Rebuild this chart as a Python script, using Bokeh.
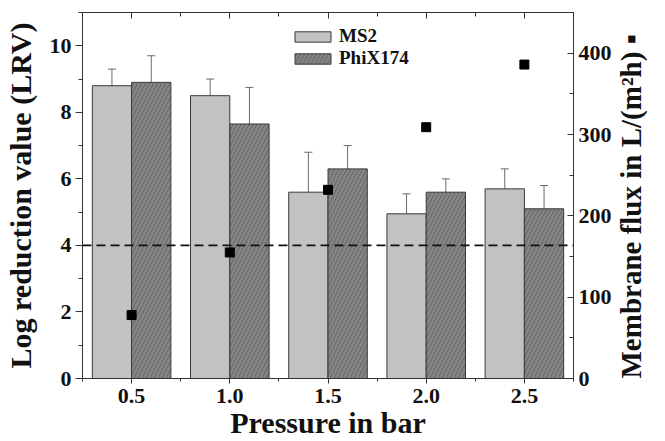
import math
from bokeh.plotting import figure
from bokeh.models import (ColumnDataSource, Range1d, LinearAxis, SingleIntervalTicker,
                          Whisker, TeeHead, Span, Legend, LegendItem, NumeralTickFormatter,
                          CustomJSTickFormatter)
from bokeh.transform import dodge
from bokeh.embed import file_html
from bokeh.resources import INLINE

pressure = [0.5, 1.0, 1.5, 2.0, 2.5]
ms2_lrv = [8.8, 8.5, 5.6, 4.95, 5.7]
ms2_err = [0.5, 0.5, 1.2, 0.6, 0.6]
phix_lrv = [8.9, 7.65, 6.3, 5.6, 5.1]
phix_err = [0.8, 1.1, 0.7, 0.4, 0.7]
flux = [78, 155, 232, 309, 386]

src = ColumnDataSource(dict(
    pressure=pressure, ms2=ms2_lrv, phix=phix_lrv, flux=flux,
    ms2_up=[v + e for v, e in zip(ms2_lrv, ms2_err)],
    ms2_lo=[v - e for v, e in zip(ms2_lrv, ms2_err)],
    phix_up=[v + e for v, e in zip(phix_lrv, phix_err)],
    phix_lo=[v - e for v, e in zip(phix_lrv, phix_err)],
))

FONT = "Liberation Serif"

p = figure(width=665, height=441, output_backend="svg", toolbar_location=None,
           x_range=Range1d(0.25, 2.75), y_range=Range1d(0, 11),
           min_border_left=80, min_border_right=90, min_border_top=12, min_border_bottom=63)
p.extra_y_ranges = {"flux": Range1d(0, 450)}
p.xgrid.visible = False
p.ygrid.visible = False
p.outline_line_color = "#333333"
p.background_fill_color = "white"

bw = 0.2
r1 = p.vbar(x=dodge("pressure", -0.1, range=p.x_range), top="ms2", width=bw, source=src,
            fill_color="#c2c2c2", line_color="#3a3a3a", line_width=1)
r2 = p.vbar(x=dodge("pressure", 0.1, range=p.x_range), top="phix", width=bw, source=src,
            fill_color="#858585", line_color="#3a3a3a", line_width=1,
            hatch_pattern="/", hatch_color="#5a5a5a", hatch_scale=8, hatch_weight=0.8)

for up, lo, off in (("ms2_up", "ms2_lo", -0.1), ("phix_up", "phix_lo", 0.1)):
    w = Whisker(base=dodge("pressure", off, range=p.x_range), upper=up, lower=lo, source=src,
                line_color="#6a6a6a", line_width=1,
                upper_head=TeeHead(size=8, line_color="#6a6a6a", line_width=1),
                lower_head=TeeHead(size=8, line_color="#6a6a6a", line_width=1))
    p.add_layout(w)

p.add_layout(Span(location=4, dimension="width", line_color="#111111",
                  line_width=1.6, line_dash="9 5"))

p.scatter(x="pressure", y="flux", source=src, marker="square", size=9,
          color="black", y_range_name="flux")

def style(ax):
    ax.major_label_text_font = FONT
    ax.major_label_text_font_style = "bold"
    ax.major_label_text_font_size = "22px"
    ax.major_label_text_color = "#111111"
    ax.axis_label_text_font = FONT
    ax.axis_label_text_font_style = "bold"
    ax.axis_label_text_font_size = "30px"
    ax.axis_label_text_color = "#111111"
    ax.axis_line_color = "#333333"
    ax.major_tick_line_color = "#333333"
    ax.minor_tick_line_color = "#333333"

xax = p.xaxis[0]
xax.ticker = SingleIntervalTicker(interval=0.5, num_minor_ticks=2)
xax.formatter = NumeralTickFormatter(format="0.0")
xax.axis_label = "Pressure in bar"
style(xax)
xax.major_tick_out = 5
xax.major_tick_in = 0
xax.minor_tick_out = 3
xax.minor_tick_in = 0
xax.major_label_standoff = 5
xax.axis_label_standoff = 0

yax = p.yaxis[0]
yax.ticker = SingleIntervalTicker(interval=2, num_minor_ticks=2)
yax.axis_label = "Log reduction value (LRV)"
style(yax)
yax.major_tick_out = 7
yax.major_tick_in = 0
yax.minor_tick_out = 4
yax.minor_tick_in = 0
yax.major_label_standoff = 4
yax.axis_label_standoff = 10

rax = LinearAxis(y_range_name="flux", ticker=SingleIntervalTicker(interval=100, num_minor_ticks=2),
                 axis_label="Membrane flux in L/(m\u00b2h) \u25aa")
style(rax)
rax.axis_label_text_font_size = "29px"
rax.major_tick_in = 6
rax.major_tick_out = 0
rax.minor_tick_in = 4
rax.minor_tick_out = 0
rax.major_label_standoff = 5
rax.axis_label_standoff = 16
rax.axis_label_orientation = math.pi / 2
try:
    rax.axis_label_align = "start"
except Exception:
    pass
p.add_layout(rax, "right")

tax = LinearAxis(ticker=SingleIntervalTicker(interval=0.5, num_minor_ticks=2),
                 formatter=CustomJSTickFormatter(code="return ''"))
tax.major_label_standoff = 0
tax.major_tick_in = 6
tax.major_tick_out = 0
tax.minor_tick_in = 4
tax.minor_tick_out = 0
tax.axis_line_color = "#333333"
tax.major_tick_line_color = "#333333"
tax.minor_tick_line_color = "#333333"
p.add_layout(tax, "above")

legend = Legend(items=[LegendItem(label="MS2", renderers=[r1]),
                       LegendItem(label="PhiX174", renderers=[r2])],
                location=(208, 309), orientation="vertical")
legend.label_text_font = FONT
legend.label_text_font_style = "bold"
legend.label_text_font_size = "19px"
legend.label_text_color = "#111111"
legend.glyph_width = 45
legend.glyph_height = 13
legend.label_height = 12
legend.spacing = 0
legend.padding = 4
legend.border_line_color = None
legend.background_fill_alpha = 0
legend.label_standoff = 4
p.add_layout(legend)

open("out.html", "w").write(file_html(p, INLINE))
